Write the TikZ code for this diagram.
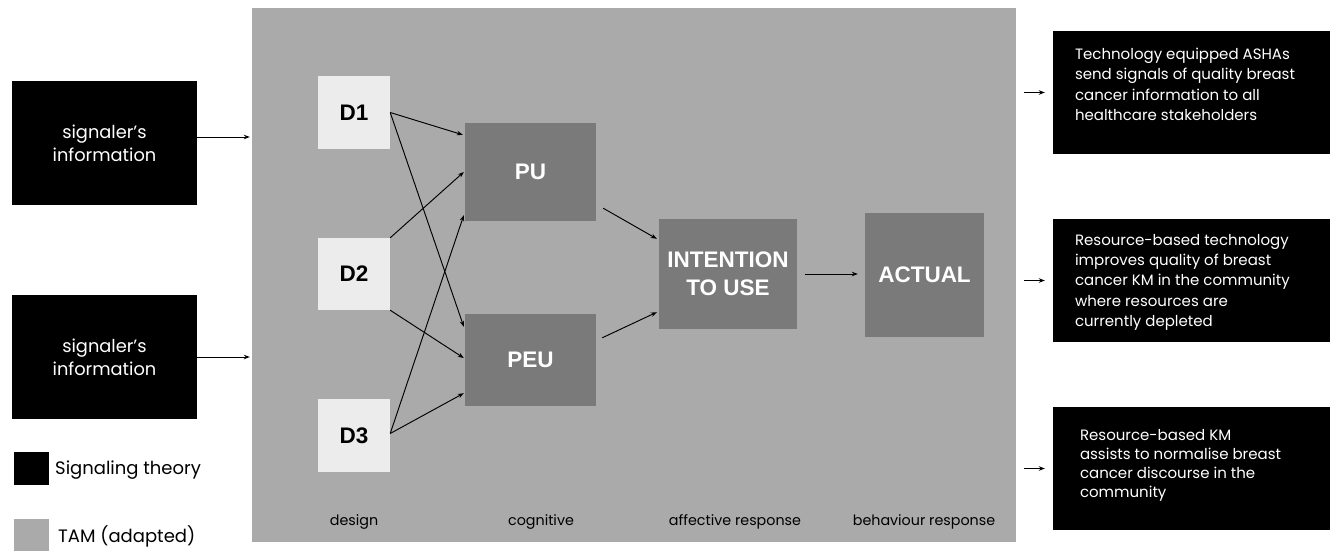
\documentclass[tikz,border=0pt]{standalone}
\usepackage{fontspec}
\setmainfont{Poppins}
\newfontfamily\arialfont{Liberation Sans}
\usetikzlibrary{calc,arrows.meta}
\definecolor{panelgray}{HTML}{AAAAAA}
\definecolor{lightbox}{HTML}{ECECEC}
\definecolor{darkbox}{HTML}{7A7A7A}
\tikzset{
  blackbox/.style={fill=black, draw=none, minimum width=185pt, minimum height=124pt, inner sep=0pt, text=white, align=center, font=\fontsize{17.8}{23}\selectfont},
  dbox/.style={fill=lightbox, draw=none, minimum width=72pt, minimum height=73pt, inner sep=0pt, font=\arialfont\bfseries\fontsize{22.5}{27}\selectfont},
  tambox/.style={fill=darkbox, draw=none, inner sep=0pt, text=white, align=center, font=\arialfont\bfseries\fontsize{22.5}{28}\selectfont},
  outbox/.style={fill=black, draw=none, minimum width=279pt, minimum height=123pt, inner sep=0pt},
  outtext/.style={text=white, align=left, inner sep=0pt, anchor=north west, font=\fontsize{15}{20.4}\selectfont},
  stage/.style={font=\fontsize{14.3}{16}\selectfont, inner sep=0pt},
  legendtext/.style={font=\fontsize{18}{20}\selectfont, inner sep=0pt, anchor=west},
  arr/.style={-{Stealth[length=6pt,width=4.5pt]}, line width=0.95pt},
}
\begin{document}
\begin{tikzpicture}[x=1pt,y=-1pt]
\useasboundingbox (0,0) rectangle (1330,550);
\fill[white] (0,0) rectangle (1330,550);
% panel
\node[fill=panelgray, draw=none, minimum width=764pt, minimum height=534pt, inner sep=0pt] (panel) at (634,275) {};
% signaler boxes
\node[blackbox] (sig1) at (104.5,143) {\raisebox{-2pt}{signaler's}\\\raisebox{-2pt}{information}};
\node[blackbox] (sig2) at (104.5,357) {\raisebox{-2pt}{signaler's}\\\raisebox{-2pt}{information}};
\draw[arr] ([yshift=6pt]sig1.east) -- ([yshift=6pt,xshift=-2pt]sig1.east -| panel.west);
\draw[arr] (sig2.east) -- ([xshift=-2pt]sig2.east -| panel.west);
% legend
\node[fill=black, minimum width=35pt, minimum height=33pt, inner sep=0pt] (legst) at (31.5,468.5) {};
\node[legendtext] (legsttext) at (55,470) {Signaling theory};
\node[fill=panelgray, minimum width=35pt, minimum height=34pt, inner sep=0pt] (legtam) at (31.5,536) {};
\node[legendtext] (legtamtext) at (58,536) {TAM (adapted)};
% design boxes
\node[dbox] (D1) at (354,112.5) {D1};
\node[dbox, minimum height=72pt] (D2) at (354,274) {D2};
\node[dbox] (D3) at (354,435.5) {D3};
% cognitive
\node[tambox, minimum width=131pt, minimum height=98pt] (PU) at (530.5,172) {PU};
\node[tambox, minimum width=131pt, minimum height=92pt] (PEU) at (530.5,360) {PEU};
\node[tambox, minimum width=138pt, minimum height=110pt] (INT) at (728,274) {INTENTION\\TO USE};
\node[tambox, minimum width=119pt, minimum height=124pt] (ACT) at (924.5,275) {ACTUAL};
% D -> PU/PEU
\draw[arr] (D1.east) -- ([yshift=-12pt,xshift=-2pt]PU.north west);
\draw[arr] (D1.east) -- ([yshift=-13pt,xshift=-1pt]PEU.north west);
\draw[arr] (D2.north east) -- ([xshift=-1pt]PU.west);
\draw[arr] (D2.south east) -- ([yshift=2pt,xshift=-1pt]PEU.west);
\draw[arr] ([yshift=2pt]D3.east) -- ([yshift=6pt,xshift=-1pt]PU.south west);
\draw[arr] ([yshift=2pt]D3.east) -- ([yshift=13pt,xshift=-1pt]PEU.south west);
% to intention
\draw[arr] ([xshift=7pt,yshift=13pt]PU.south east) -- ([xshift=-2pt,yshift=-20pt]INT.north west);
\draw[arr] ([xshift=6pt,yshift=-24pt]PEU.north east) -- ([xshift=-2pt,yshift=17pt]INT.south west);
\draw[arr] ([xshift=8pt]INT.east) -- ([xshift=-7pt]INT.east -| ACT.west);
% stage labels
\node[stage] (sdesign) at (354,522) {design};
\node[stage] (scog) at (541,522) {cognitive};
\node[stage] (saff) at (735,522) {affective response};
\node[stage] (sbeh) at (924,522) {behaviour response};
% outcome boxes
\node[outbox] (R1) at (1192.5,92.5) {};
\node[outbox] (R2) at (1192.5,280.5) {};
\node[outbox] (R3) at (1192.5,468.5) {};
\node[outtext] (T1) at ($(R1.north west)+(22,17)$) {Technology equipped ASHAs\\send signals of quality breast\\cancer information to all\\healthcare stakeholders};
\node[outtext] (T2) at ($(R2.north west)+(22,15)$) {Resource-based technology\\improves quality of breast\\cancer KM in the community\\where resources are\\currently depleted};
\node[outtext, font=\fontsize{15}{19.2}\selectfont] (T3) at ($(R3.north west)+(27,22)$) {Resource-based KM\\assists to normalise breast\\cancer discourse in the\\community};
\draw[arr] ([xshift=8pt]panel.east |- R1.west) -- ([xshift=-8pt]R1.west);
\draw[arr] ([xshift=8pt]panel.east |- R2.west) -- ([xshift=-8pt]R2.west);
\draw[arr] ([xshift=8pt]panel.east |- R3.west) -- ([xshift=-8pt]R3.west);
\end{tikzpicture}
\end{document}
